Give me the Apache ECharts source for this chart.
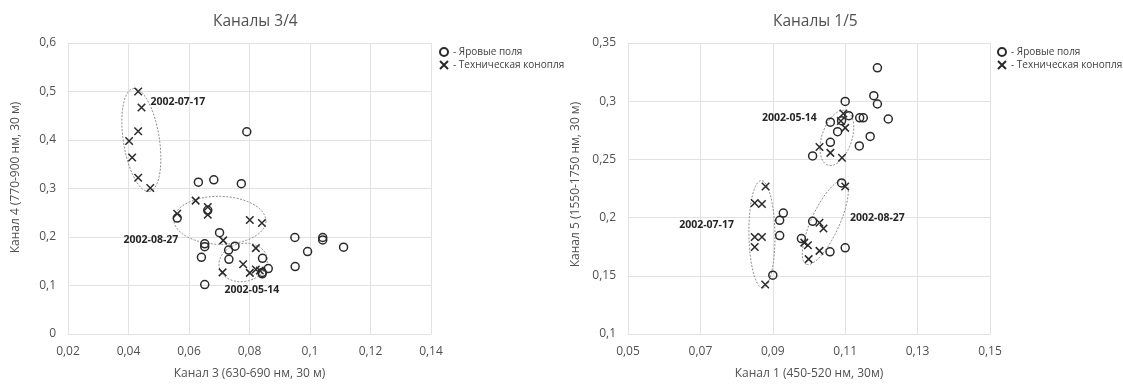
<!DOCTYPE html>
<html><head><meta charset="utf-8">
<script src="https://cdn.jsdelivr.net/npm/echarts@6/dist/echarts.min.js"></script>
<style>html,body{margin:0;padding:0;background:#fff}#c{width:1123px;height:385px}</style>
</head><body><div id="c"></div>
<script>
// ---------- DATA ----------
const leftXTicks = [0.02, 0.04, 0.06, 0.08, 0.1, 0.12, 0.14];
const leftYTicks = [0, 0.1, 0.2, 0.3, 0.4, 0.5, 0.6];
const rightXTicks = [0.05, 0.07, 0.09, 0.11, 0.13, 0.15];
const rightYTicks = [0.1, 0.15, 0.2, 0.25, 0.3, 0.35];

const seriesNames = ['Яровые поля', 'Техническая конопля'];

// Channel 3 / Channel 4
const leftSpring = [
  [0.0791,0.417],[0.0631,0.313],[0.0682,0.318],[0.0773,0.310],[0.0662,0.255],
  [0.0561,0.239],[0.0701,0.209],[0.0652,0.186],[0.0652,0.180],[0.0752,0.181],
  [0.0731,0.173],[0.0641,0.158],[0.0732,0.154],[0.0843,0.156],[0.0652,0.102],
  [0.0842,0.127],[0.0842,0.124],[0.0862,0.135],[0.0950,0.199],[0.0951,0.139],
  [0.0992,0.170],[0.1042,0.199],[0.1042,0.194],[0.1111,0.179]
];
const leftHemp = [
  [0.0432,0.500],[0.0443,0.467],[0.0432,0.418],[0.0402,0.398],[0.0412,0.364],[0.0432,0.322],[0.0472,0.301],
  [0.0561,0.248],[0.0622,0.275],[0.0662,0.262],[0.0662,0.246],[0.0801,0.235],[0.0841,0.229],[0.0713,0.193],
  [0.0821,0.177],[0.0779,0.144],[0.0711,0.127],[0.0801,0.126],[0.0821,0.133],[0.0834,0.131]
];
// ellipse = major axis endpoints [x1,y1,x2,y2]
const leftEllipses = [
  [0.0416,0.506,0.0469,0.294],
  [0.0550,0.236,0.0854,0.2327],
  [0.0700,0.1373,0.0858,0.1578]
];
const leftLabels = [
  [0.0563,0.478,'2002-07-17'],
  [0.0474,0.1945,'2002-08-27'],
  [0.0808,0.0904,'2002-05-14']
];

// Channel 1 / Channel 5
const rightSpring = [
  [0.1189,0.3287],[0.1179,0.3047],[0.1189,0.2976],[0.1100,0.2998],[0.1219,0.2847],
  [0.1140,0.2857],[0.1150,0.2857],[0.1110,0.2876],[0.1059,0.2820],[0.1090,0.2833],
  [0.1079,0.2738],[0.1169,0.2697],[0.1059,0.2647],[0.1139,0.2616],[0.1010,0.2530],
  [0.1090,0.2298],[0.1010,0.1968],[0.0929,0.2039],[0.0919,0.1977],[0.0919,0.1846],
  [0.0979,0.1820],[0.1058,0.1706],[0.1100,0.1740],[0.0900,0.1505]
];
const rightHemp = [
  [0.1095,0.2895],[0.1088,0.2830],[0.1100,0.2771],[0.1029,0.2607],[0.1059,0.2556],[0.1091,0.2514],
  [0.0880,0.2267],[0.0850,0.2125],[0.0870,0.2117],[0.0850,0.1833],[0.0870,0.1833],[0.0850,0.1748],[0.0879,0.1425],
  [0.1100,0.2267],[0.1029,0.1955],[0.1040,0.1907],[0.0987,0.1785],[0.0997,0.1762],[0.1029,0.1714],[0.0999,0.1643]
];
const rightEllipses = [
  [0.1102,0.2918,0.1052,0.2451],
  [0.0868,0.2318,0.0872,0.1396],
  [0.1098,0.2318,0.0992,0.1600]
];
const rightLabels = [
  [0.0946,0.2856,'2002-05-14'],
  [0.0717,0.1938,'2002-07-17'],
  [0.1189,0.1997,'2002-08-27']
];

// ---------- STYLE ----------
const FONT = '"Open Sans", sans-serif';
const leftEllipseMinor = [18, 24, 19];
const rightEllipseMinor = [15, 13, 14];
const markColor = '#2a2a2a';
const gridColor = '#e2e2e2';
const labelColor = '#505050';

const fmt = v => String(+v.toFixed(4)).replace('.', ',');

function ellipseRender(minor) {
  return function (params, api) {
    const p1 = api.coord([api.value(0), api.value(1)]);
    const p2 = api.coord([api.value(2), api.value(3)]);
    const cx = (p1[0] + p2[0]) / 2, cy = (p1[1] + p2[1]) / 2;
    const a = Math.hypot(p2[0] - p1[0], p2[1] - p1[1]) / 2;
    const b = minor[params.dataIndex];
    const ang = Math.atan2(p2[1] - p1[1], p2[0] - p1[0]);
    const pts = [];
    for (let i = 0; i <= 120; i++) {
      const t = i / 120 * Math.PI * 2;
      const ex = a * Math.cos(t), ey = b * Math.sin(t);
      pts.push([cx + ex * Math.cos(ang) - ey * Math.sin(ang), cy + ex * Math.sin(ang) + ey * Math.cos(ang)]);
    }
    return { type: 'polyline', shape: { points: pts },
      style: { stroke: '#8a8a8a', lineWidth: 1, lineDash: [2, 1.5], fill: null } };
  };
}
function labelRender(labels) {
  return function (params, api) {
    const p = api.coord([api.value(0), api.value(1)]);
    return { type: 'text', x: p[0], y: p[1],
      style: { text: labels[params.dataIndex][2], font: 'bold 10.5px ' + FONT, fill: '#262626',
        align: 'center', verticalAlign: 'middle' } };
  };
}

const crossPath = 'path://M0,0L10,10M10,0L0,10';

function axisX(ticks, name, gridIndex) {
  return { type: 'value', gridIndex, min: ticks[0], max: ticks[ticks.length - 1],
    interval: +(ticks[1] - ticks[0]).toFixed(4),
    name, nameLocation: 'middle', nameGap: 34,
    nameTextStyle: { fontFamily: FONT, fontSize: 12, color: labelColor },
    axisLine: { show: true, lineStyle: { color: gridColor } }, axisTick: { show: false },
    splitLine: { show: true, lineStyle: { color: gridColor } },
    axisLabel: { formatter: fmt, fontFamily: FONT, fontSize: 12, color: labelColor, margin: 12 } };
}
function axisY(ticks, name, gridIndex, shift) {
  return { type: 'value', gridIndex, min: ticks[0], max: ticks[ticks.length - 1],
    interval: +(ticks[1] - ticks[0]).toFixed(4),
    name, nameLocation: 'middle', nameGap: 46,
    nameTextStyle: { fontFamily: FONT, fontSize: 12, color: labelColor, padding: [0, 0, 0, shift] },
    axisLine: { show: true, lineStyle: { color: gridColor } }, axisTick: { show: false },
    splitLine: { show: true, lineStyle: { color: gridColor } },
    axisLabel: { formatter: fmt, fontFamily: FONT, fontSize: 12, color: labelColor, margin: 12 } };
}
function scatter(name, data, idx, isCross) {
  return { type: 'scatter', name, data, xAxisIndex: idx, yAxisIndex: idx,
    symbol: isCross ? crossPath : 'circle', symbolSize: isCross ? 7.5 : 8,
    itemStyle: { color: 'rgba(0,0,0,0)', borderColor: markColor, borderWidth: 1.5, opacity: 1 },
    emphasis: { disabled: true }, z: 3 };
}

const chart = echarts.init(document.getElementById('c'), null, { renderer: 'canvas' });
chart.setOption({
  animation: false,
  backgroundColor: '#fff',
  title: [
    { text: 'Каналы 3/4', left: 208, top: 9, textStyle: { fontFamily: FONT, fontSize: 15.5, fontWeight: 'normal', color: labelColor } },
    { text: 'Каналы 1/5', left: 768, top: 9, textStyle: { fontFamily: FONT, fontSize: 15.5, fontWeight: 'normal', color: labelColor } }
  ],
  legend: [
    { data: seriesNames, left: 434, top: 42, orient: 'vertical', itemWidth: 8, itemHeight: 8, itemGap: 3,
      formatter: n => '- ' + n, selectedMode: false,
      textStyle: { fontFamily: FONT, fontSize: 10, color: '#404040' } },
    { data: seriesNames, left: 992, top: 42, orient: 'vertical', itemWidth: 8, itemHeight: 8, itemGap: 3,
      formatter: n => '- ' + n, selectedMode: false,
      textStyle: { fontFamily: FONT, fontSize: 10, color: '#404040' } }
  ],
  grid: [
    { left: 68, top: 43, width: 363, height: 294 },
    { left: 628, top: 43, width: 362, height: 294 }
  ],
  xAxis: [
    axisX(leftXTicks, 'Канал 3 (630-690 нм, 30 м)', 0),
    axisX(rightXTicks, 'Канал 1 (450-520 нм, 30м)', 1)
  ],
  yAxis: [
    axisY(leftYTicks, 'Канал 4 (770-900 нм, 30 м)', 0, 22),
    axisY(rightYTicks, 'Канал 5 (1550-1750 нм, 30 м)', 1, 8)
  ],
  series: [
    { type: 'custom', xAxisIndex: 0, yAxisIndex: 0, data: leftEllipses, encode: { x: [0, 2], y: [1, 3] },
      renderItem: ellipseRender(leftEllipseMinor), silent: true, z: 2 },
    { type: 'custom', xAxisIndex: 1, yAxisIndex: 1, data: rightEllipses, encode: { x: [0, 2], y: [1, 3] },
      renderItem: ellipseRender(rightEllipseMinor), silent: true, z: 2 },
    scatter(seriesNames[0], leftSpring, 0, false),
    scatter(seriesNames[1], leftHemp, 0, true),
    scatter(seriesNames[0], rightSpring, 1, false),
    scatter(seriesNames[1], rightHemp, 1, true),
    { type: 'custom', xAxisIndex: 0, yAxisIndex: 0, data: leftLabels.map(d => [d[0], d[1]]),
      renderItem: labelRender(leftLabels), silent: true, z: 4 },
    { type: 'custom', xAxisIndex: 1, yAxisIndex: 1, data: rightLabels.map(d => [d[0], d[1]]),
      renderItem: labelRender(rightLabels), silent: true, z: 4 }
  ]
});
</script></body></html>
